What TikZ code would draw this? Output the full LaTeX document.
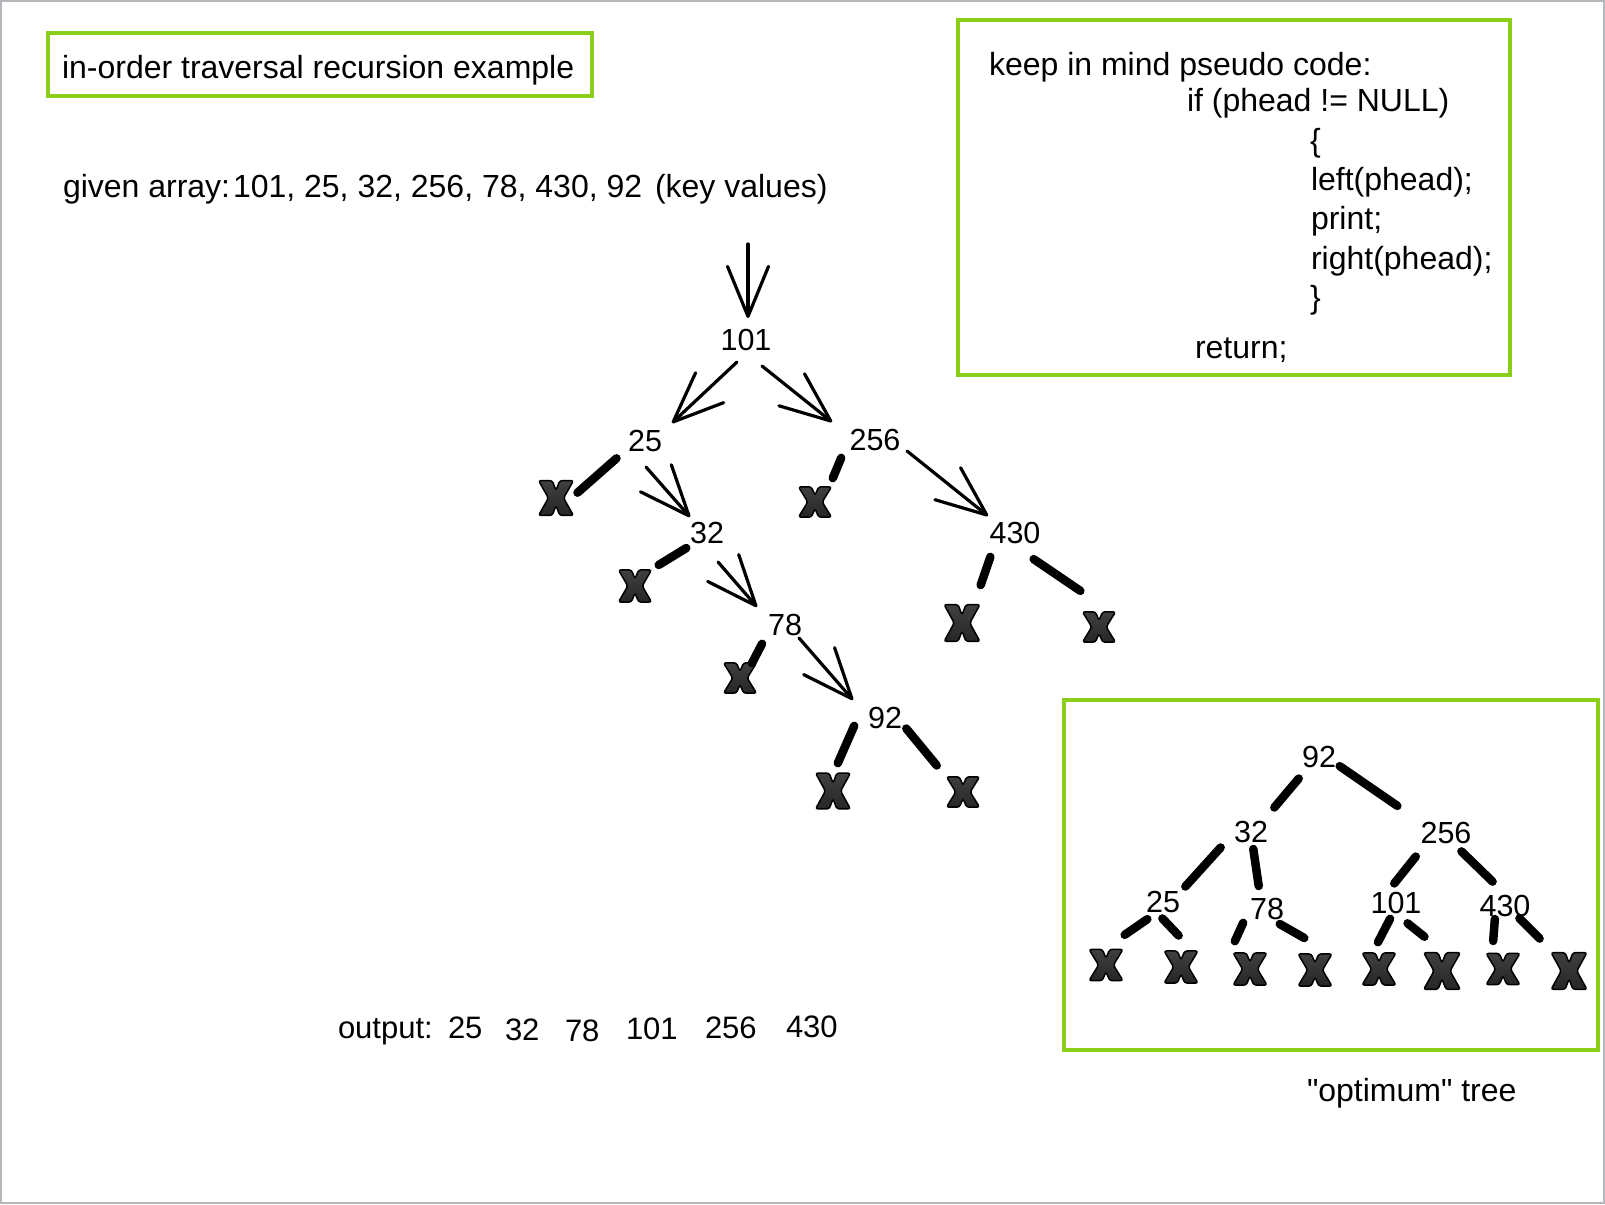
\documentclass[tikz,border=0pt]{standalone}
\usepackage{fontspec}
\setmainfont{Liberation Sans}
\font\qfont="Liberation Sans" at 32pt
\usetikzlibrary{arrows.meta}
\definecolor{boxgreen}{RGB}{138,206,26}
\definecolor{framegray}{RGB}{180,184,188}
\definecolor{xfill}{RGB}{38,38,38}
\definecolor{xtop}{RGB}{64,64,64}
\begin{document}
\begin{tikzpicture}[x=1pt,y=-1pt,
  txt/.style={inner sep=0pt, outer sep=0pt, anchor=base west, font=\fontsize{32}{38}\selectfont},
  otxt/.style={inner sep=0pt, outer sep=0pt, anchor=base west, font=\fontsize{31}{37}\selectfont},
  lbl/.style={inner sep=0pt, outer sep=0pt, font=\fontsize{30.5}{36}\selectfont},
  greenbox/.style={draw=boxgreen, line width=3.5pt},
  arr/.style={line width=3.2pt, line cap=round, -{Straight Barb[length=50pt,width=41pt,round]}},
  thk/.style={line width=8.5pt, line cap=round, shorten <=2pt, shorten >=2pt},
  xmk/.style 2 args={minimum width=#1pt, minimum height=#2pt, inner sep=0pt, outer sep=0pt,
     path picture={\begin{scope}[shift={(path picture bounding box.center)}, x=#1pt, y=#2pt]
       \shadedraw[top color=xtop, bottom color=xfill, draw=black, line width=1.5pt, rounded corners=2.5pt]
         (-0.46,0.46) -- (-0.10,0.46) -- (0,0.20) -- (0.10,0.46) -- (0.46,0.46) -- (0.20,0)
         -- (0.46,-0.46) -- (0.10,-0.46) -- (0,-0.20) -- (-0.10,-0.46) -- (-0.46,-0.46) -- (-0.20,0) -- cycle;
     \end{scope}}},
]
\useasboundingbox (0,0) rectangle (1605,1204);
\fill[white] (0,0) rectangle (1605,1204);
\draw[framegray, line width=2pt] (1,1) rectangle (1604,1203);

% title box
\draw[greenbox] (48,33) rectangle (592,96);
\node[txt] (title) at (62,79) {in-order traversal recursion example};

% given array
\node[txt] (given) at (63,197) {given array:};
\node[txt] (arr) at (233,197) {101, 25, 32, 256, 78, 430, 92};
\node[txt] (keyv) at (655,197) {(key values)};

% pseudo code box
\draw[greenbox] (958,20) rectangle (1510,375);
\node[txt] (pc1) at (989,76) {keep in mind pseudo code:};
\node[txt] (pc2) at (1187,112) {if (phead != NULL)};
\node[txt] (pc3) at (1310,151) {\{};
\node[txt] (pc4) at (1311,190) {left(phead);};
\node[txt] (pc5) at (1311,229.5) {print;};
\node[txt] (pc6) at (1311,269) {right(phead);};
\node[txt] (pc7) at (1310,308.5) {\}};
\node[txt] (pc8) at (1195,358) {return;};

% main tree labels
\node[lbl] (n101) at (746,340) {101};
\node[lbl] (n25) at (645,441) {25};
\node[lbl] (n256) at (875,440) {256};
\node[lbl] (n32) at (707,533) {32};
\node[lbl] (n430) at (1015,533) {430};
\node[lbl] (n78) at (785,625) {78};
\node[lbl] (n92) at (885,718) {92};

% main tree null marks
\node[xmk={38}{38}] (xa) at (556,498) {};
\node[xmk={36}{33}] (xb) at (815,502) {};
\node[xmk={36}{35}] (xc) at (635,586) {};
\node[xmk={39}{40}] (xd) at (962,623) {};
\node[xmk={36}{33}] (xe) at (1099,627) {};
\node[xmk={36}{33}] (xf) at (740,678) {};
\node[xmk={38}{39}] (xg) at (833,791) {};
\node[xmk={36}{33}] (xh) at (963,792) {};

% main tree connectors
\coordinate (top) at (748,244);
\draw[arr] (top) -- ([shift={(2,-22)}]n101.center);
\draw[arr] ([shift={(-9,22)}]n101.center) -- ([shift={(27,-18)}]n25.center);
\draw[arr] ([shift={(16,26)}]n101.center) -- ([shift={(-43,-18)}]n256.center);
\draw[thk] ([shift={(-27,16)}]n25.center) -- ([shift={(20,-4)}]xa.center);
\draw[arr] ([shift={(1,26)}]n25.center) -- ([shift={(-17,-16)}]n32.center);
\draw[thk] ([shift={(-33,16)}]n256.center) -- ([shift={(17,-22)}]xb.center);
\draw[arr] ([shift={(32,11)}]n256.center) -- ([shift={(-27,-17)}]n430.center);
\draw[thk] ([shift={(-19,14)}]n32.center) -- ([shift={(22,-20)}]xc.center);
\draw[arr] ([shift={(11,29)}]n32.center) -- ([shift={(-28,-18)}]n78.center);
\draw[thk] ([shift={(-24,22)}]n430.center) -- ([shift={(18,-36)}]xd.center);
\draw[thk] ([shift={(17,25)}]n430.center) -- ([shift={(-17,-35)}]xe.center);
\draw[thk] ([shift={(-22,17)}]n78.center) -- ([shift={(11,-13)}]xf.center);
\draw[arr] ([shift={(14,13)}]n78.center) -- ([shift={(-32,-18)}]n92.center);
\draw[thk] ([shift={(-30,6)}]n92.center) -- ([shift={(4,-26)}]xg.center);
\draw[thk] ([shift={(20,9)}]n92.center) -- ([shift={(-25,-25)}]xh.center);

% output row
\node[otxt] (outl) at (338,1038) {output:};
\node[otxt] (o1) at (448,1038) {25};
\node[otxt] (o2) at (505,1040) {32};
\node[otxt] (o3) at (565,1041) {78};
\node[otxt] (o4) at (626,1039) {101};
\node[otxt] (o5) at (705,1038) {256};
\node[otxt] (o6) at (786,1037) {430};

% optimum tree box
\draw[greenbox] (1064,700) rectangle (1598,1050);
\node[txt] (optcap) at (1307,1101) {{\qfont "}optimum{\qfont "} tree};

\node[lbl] (o92) at (1319,757) {92};
\node[lbl] (o32) at (1251,832) {32};
\node[lbl] (o256) at (1446,833) {256};
\node[lbl] (o25) at (1163,902) {25};
\node[lbl] (o78) at (1267,909) {78};
\node[lbl] (o101) at (1396,903) {101};
\node[lbl] (o430) at (1505,906) {430};

\node[xmk={37}{34}] (p1) at (1106,965) {};
\node[xmk={37}{35}] (p2) at (1181,967) {};
\node[xmk={37}{35}] (p3) at (1250,969) {};
\node[xmk={37}{35}] (p4) at (1315,970) {};
\node[xmk={37}{35}] (p5) at (1379,969) {};
\node[xmk={40}{40}] (p6) at (1442,971) {};
\node[xmk={37}{34}] (p7) at (1503,969) {};
\node[xmk={39}{40}] (p8) at (1569,971) {};

\draw[thk] ([shift={(-19,20)}]o92.center) -- ([shift={(22,-23)}]o32.center);
\draw[thk] ([shift={(19,8)}]o92.center) -- ([shift={(-47,-26)}]o256.center);
\draw[thk] ([shift={(-29,14)}]o32.center) -- ([shift={(21,-14)}]o25.center);
\draw[thk] ([shift={(2,15)}]o32.center) -- ([shift={(-8,-21)}]o78.center);
\draw[thk] ([shift={(-29,22)}]o256.center) -- ([shift={(-3,-18)}]o101.center);
\draw[thk] ([shift={(14,17)}]o256.center) -- ([shift={(-11,-23)}]o430.center);
\draw[thk] ([shift={(-14,16)}]o25.center) -- ([shift={(17,-29)}]p1.center);
\draw[thk] ([shift={(-2,15)}]o25.center) -- ([shift={(-1,-30)}]p2.center);
\draw[thk] ([shift={(-23,12)}]o78.center) -- ([shift={(-16,-26)}]p3.center);
\draw[thk] ([shift={(11,14)}]o78.center) -- ([shift={(-9,-31)}]p4.center);
\draw[thk] ([shift={(-5,14)}]o101.center) -- ([shift={(-2,-25)}]p5.center);
\draw[thk] ([shift={(10,19)}]o101.center) -- ([shift={(-16,-33)}]p6.center);
\draw[thk] ([shift={(-10,11)}]o430.center) -- ([shift={(-10,-26)}]p7.center);
\draw[thk] ([shift={(13,11)}]o430.center) -- ([shift={(-28,-31)}]p8.center);
\end{tikzpicture}
\end{document}
